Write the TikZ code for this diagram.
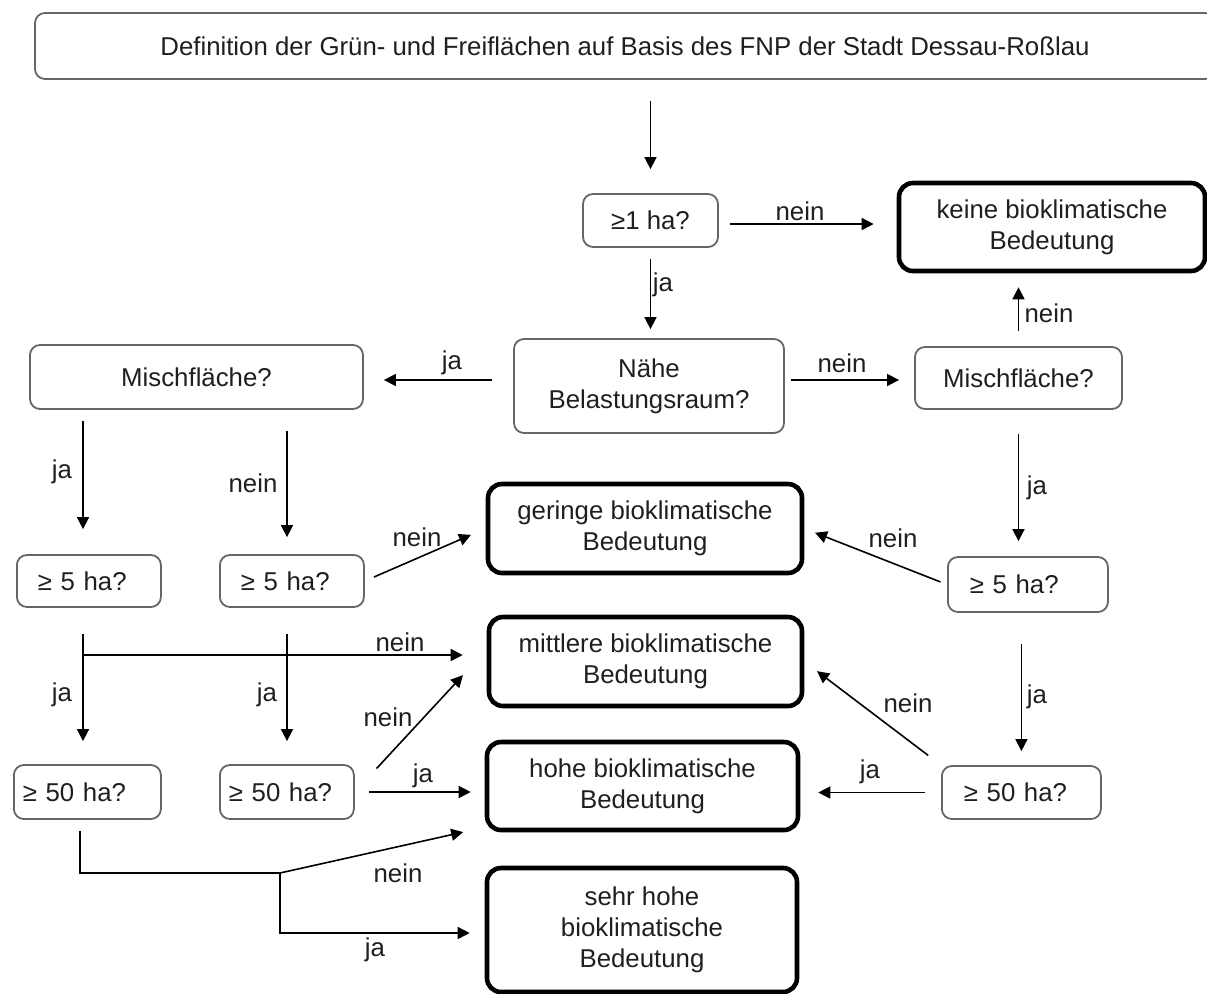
\documentclass[tikz,border=0pt]{standalone}
\usepackage{fontspec}
\setmainfont{Liberation Sans}
\usetikzlibrary{arrows.meta}

\begin{document}
\begin{tikzpicture}[x=0.5pt,y=-0.5pt,
    every node/.style={font=\fontsize{12.9}{15.5}\selectfont,text=black!88},
    frage/.style={draw=black!60,line width=0.9pt,rounded corners=5pt,align=center},
    links/.style={frage,anchor=west,align=left},
    ergebnis/.style={draw=black,line width=2.3pt,rounded corners=7pt,align=center},
    lab/.style={inner sep=0pt},
    pfeil/.style={-{Triangle[length=6pt,width=6pt]},line width=0.8pt}]
    \useasboundingbox (0,0) rectangle (1207,993);

    % Start
    \node[frage,minimum width=590pt,minimum height=33pt] (top) at (625,46)
        {Definition der Grün- und Freiflächen auf Basis des FNP der Stadt Dessau-Roßlau};

    % Fragen
    \node[frage,minimum width=67.5pt,minimum height=26.5pt] (q1) at (650.5,220.5) {≥1 ha?};
    \node[frage,minimum width=135pt,minimum height=47pt] (naehe) at (649,386) {Nähe\\Belastungsraum?};
    \node[frage,minimum width=166.5pt,minimum height=32pt] (mischL) at (196.5,377) {Mischfläche?};
    \node[frage,minimum width=103.5pt,minimum height=31pt] (mischR) at (1018.5,378) {Mischfläche?};
    \node[links,text width=51pt,inner xsep=10.5pt,minimum height=26pt] (q5L) at (16,581) {≥ 5 ha?};
    \node[links,text width=51pt,inner xsep=10.5pt,minimum height=26pt] (q5M) at (219,581) {≥ 5 ha?};
    \node[links,text width=58pt,inner xsep=11pt,minimum height=27.5pt] (q5R) at (947,584.5) {≥ 5 ha?};
    \node[links,text width=64.5pt,inner xsep=4.5pt,minimum height=27pt] (q50L) at (13,792) {≥ 50 ha?};
    \node[links,text width=58pt,inner xsep=4.5pt,minimum height=27pt] (q50M) at (219,792) {≥ 50 ha?};
    \node[links,text width=57.5pt,inner xsep=11pt,minimum height=26.5pt] (q50R) at (941,792.5) {≥ 50 ha?};

    % Ergebnisse
    \node[ergebnis,minimum width=153pt,minimum height=44pt] (keine) at (1052,227) {keine bioklimatische\\Bedeutung};
    \node[ergebnis,minimum width=157pt,minimum height=44.5pt] (gering) at (645,528.5) {geringe bioklimatische\\Bedeutung};
    \node[ergebnis,minimum width=156.5pt,minimum height=44.5pt] (mittel) at (645.5,661.5) {mittlere bioklimatische\\Bedeutung};
    \node[ergebnis,minimum width=155.5pt,minimum height=44pt] (hoch) at (642.5,786) {hohe bioklimatische\\Bedeutung};
    \node[ergebnis,minimum width=155pt,minimum height=62pt] (sehrhoch) at (642,930) {sehr hohe\\bioklimatische\\Bedeutung};

    % Hilfspunkte
    \coordinate (ebene1) at (0,224);
    \coordinate (ebene) at (0,380);
    \coordinate (colA) at (83,0);
    \coordinate (colB) at (287,0);
    \coordinate (brA) at (83,655);
    \coordinate (knick) at (80,873);
    \coordinate (gabel) at (280,873);

    % Mitte und rechts
    \draw[pfeil,shorten <=10.5pt,shorten >=12pt] (top.south -| q1) -- (q1);
    \draw[pfeil,shorten <=5.5pt,shorten >=11.5pt] (ebene1 -| q1.east) -- (ebene1 -| keine.west);
    \draw[pfeil,shorten <=5.5pt,shorten >=4.5pt] (q1) -- (q1 |- naehe.north);
    \draw[pfeil,shorten <=10.5pt,shorten >=10pt] (ebene -| naehe.west) -- (ebene -| mischL.east);
    \draw[pfeil,shorten <=3pt,shorten >=7.5pt] (ebene -| naehe.east) -- (ebene -| mischR.west);
    \draw[pfeil,shorten <=7.5pt,shorten >=7pt] (mischR) -- (mischR |- keine.south);
    \draw[pfeil,shorten <=12pt,shorten >=7.5pt] (mischR) -- (mischR |- q5R.north);
    \draw[pfeil,shorten <=3.5pt,shorten >=5.75pt] (q5R.west) -- (gering.east);
    \draw[pfeil,shorten <=15.5pt,shorten >=7pt] (q50R |- q5R.south) -- (q50R);
    \draw[pfeil,shorten <=8pt,shorten >=9pt] (q50R) -- (q50R -| hoch.east);
    \draw[pfeil,shorten <=8pt,shorten >=8pt] (q50R.north west) -- (mittel.east);

    % Links
    \draw[pfeil,shorten <=5.5pt,shorten >=12.5pt] (colA |- mischL.south) -- (colA |- q5L.north);
    \draw[pfeil,shorten <=10.5pt,shorten >=8.5pt] (colB |- mischL.south) -- (colB |- q5M.north);
    \draw[pfeil,shorten <=5pt,shorten >=8pt] (q5M.east) -- (gering.west);
    \draw[pfeil,shorten <=13pt,shorten >=11.5pt] (colA |- q5L.south) -- (colA |- q50L.north);
    \draw[pfeil,shorten >=12pt] (brA) -- (brA -| mittel.west);
    \draw[pfeil,shorten <=13pt,shorten >=11.5pt] (colB |- q5M.south) -- (colB |- q50M.north);
    \draw[pfeil,shorten <=16pt,shorten >=17.5pt] (q50M.east) -- ([yshift=6pt]mittel.west);
    \draw[pfeil,shorten <=7pt,shorten >=7pt] (q50M.east) -- (q50M.east -| hoch.west);
    \draw[line width=0.8pt,shorten <=5.5pt] (knick |- q50L.south) -- (knick) -- (gabel);
    \draw[pfeil,shorten >=11pt] (gabel) -- ([yshift=2.5pt]hoch.south west);
    \draw[pfeil,shorten >=7.5pt] (gabel) |- ([yshift=-1.5pt]sehrhoch.west);

    % Beschriftungen
    \foreach \n/\x/\y/\t in {lN1/800/211/nein, lJ1/663/285/ja, lJ2/452/363/ja,
        lN2/842/363/nein, lN3/1049/313/nein, lJ3/1037/488/ja, lN4/893/538/nein,
        lJ4/1037/697/ja, lN5/908/703/nein, lJ5/870/772/ja, lJ6/62/472/ja,
        lN6/253/483/nein, lN7/417/537/nein, lN8/400/642/nein, lJ7/62/695/ja,
        lJ8/267/695/ja, lN9/388/717/nein, lJ9/423/776/ja, lN10/398/873/nein,
        lJ10/375/950/ja}
        \node[lab] (\n) at (\x,\y) {\t};
\end{tikzpicture}
\end{document}
